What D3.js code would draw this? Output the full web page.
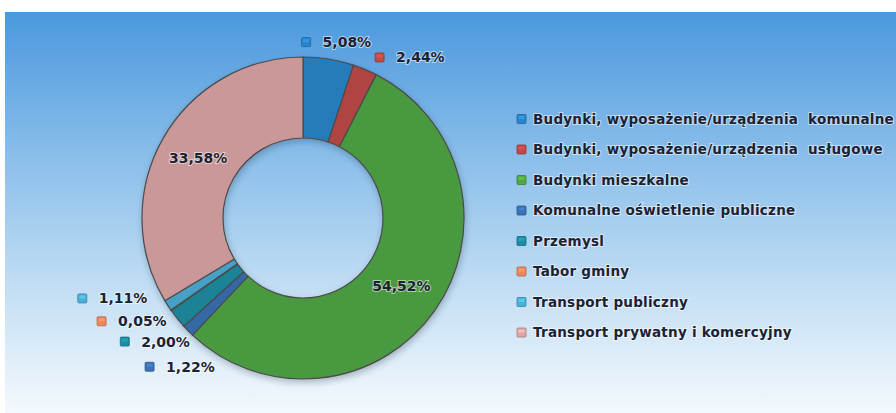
<!DOCTYPE html>
<meta charset="utf-8">
<title>Struktura zużycia energii</title>
<style>
  body { margin: 0; background: #fff; }
  svg text { font-family: "DejaVu Sans", sans-serif; font-weight: bold; fill: #1b2233; white-space: pre; }
  .halo { stroke: rgba(255,255,255,0.55); stroke-width: 2px; paint-order: stroke; }
</style>
<svg width="896" height="413"></svg>
<script src="https://d3js.org/d3.v7.min.js"></script>
<script>

// data, in drawing order (clockwise from 12 o'clock)
var categories = [
  "Budynki, wyposażenie/urządzenia  komunalne",
  "Budynki, wyposażenie/urządzenia  usługowe",
  "Budynki mieszkalne",
  "Komunalne oświetlenie publiczne",
  "Przemysl",
  "Tabor gminy",
  "Transport publiczny",
  "Transport prywatny i komercyjny"
];
var shares = [5.08, 2.44, 54.52, 1.22, 2.00, 0.05, 1.11, 33.58];
var colors = ["#2a86cc", "#bf4a48", "#4fa745", "#3b72b6", "#1c8ea3", "#ec875e", "#4cb0d8", "#dea6a8"];

// label placement: inside the ring or outside with an offset from the outer edge
var labelInside = [false, false, true, false, false, false, false, true];
var labelShift = [[-27, -17], [10, -12], [0, 0], [-43, 36], [-57, 23], [-74, 11], [-90, -7], [0, 0]];

var svg = d3.select("svg"),
    width = +svg.attr("width"),
    height = +svg.attr("height");

var fmt = function(v) { return d3.format(".2f")(v).replace(".", ",") + "%"; };

var defs = svg.append("defs");

// background panel
var bg = defs.append("linearGradient").attr("id", "bg")
    .attr("x1", 0).attr("y1", 0).attr("x2", 0).attr("y2", 1);
bg.append("stop").attr("offset", 0).attr("stop-color", "#4b98dd");
bg.append("stop").attr("offset", 0.35).attr("stop-color", "#88bdea");
bg.append("stop").attr("offset", 0.7).attr("stop-color", "#c4dff4");
bg.append("stop").attr("offset", 1).attr("stop-color", "#f4f9fd");

svg.append("rect")
    .attr("x", 5).attr("y", 12)
    .attr("width", width - 5).attr("height", height - 12)
    .attr("fill", "url(#bg)");

var cx = 303, cy = 218, outerR = 161, innerR = 80;

var shadow = defs.append("filter").attr("id", "shadow")
    .attr("x", "-10%").attr("y", "-10%").attr("width", "120%").attr("height", "120%");
shadow.append("feDropShadow")
    .attr("dx", 1).attr("dy", 3).attr("stdDeviation", 3)
    .attr("flood-color", "#203040").attr("flood-opacity", 0.3);

// ring shading per slice colour
colors.forEach(function(c, i) {
  var g = defs.append("radialGradient").attr("id", "sl" + i)
      .attr("gradientUnits", "userSpaceOnUse")
      .attr("cx", cx).attr("cy", cy).attr("r", outerR);
  var base = d3.color(c);
  g.append("stop").attr("offset", innerR / outerR).attr("stop-color", base.darker(0.15));
  g.append("stop").attr("offset", 0.6).attr("stop-color", base);
  g.append("stop").attr("offset", 0.86).attr("stop-color", base.brighter(0.1));
  g.append("stop").attr("offset", 1).attr("stop-color", base.darker(0.25));
});

var pie = d3.pie().sort(null).value(function(d) { return d; });
var arcs = pie(shares);

var arc = d3.arc().innerRadius(innerR).outerRadius(outerR);
var midArc = d3.arc().innerRadius((innerR + outerR) / 2).outerRadius((innerR + outerR) / 2);
var edgeArc = d3.arc().innerRadius(outerR).outerRadius(outerR);

var chart = svg.append("g").attr("transform", "translate(" + cx + "," + cy + ")");

chart.append("g")
    .attr("filter", "url(#shadow)")
  .selectAll("path")
  .data(arcs)
  .enter().append("path")
    .attr("d", arc)
    .attr("fill", function(d, i) { return "url(#sl" + i + ")"; })
    .attr("stroke", "#4b4b4b")
    .attr("stroke-width", 1.2)
    .attr("stroke-linejoin", "round");

// small square key marker
function marker(sel, i, x, y) {
  var c = d3.color(colors[i]);
  sel.append("rect")
      .attr("x", x).attr("y", y - 4.5)
      .attr("width", 9).attr("height", 9)
      .attr("rx", 1)
      .attr("fill", c)
      .attr("stroke", c.darker(0.8))
      .attr("stroke-width", 0.8);
  sel.append("rect")
      .attr("x", x + 1.5).attr("y", y - 3)
      .attr("width", 6).attr("height", 3)
      .attr("fill", c.brighter(0.6))
      .attr("opacity", 0.6);
}

// value labels
var labels = chart.append("g");
arcs.forEach(function(d, i) {
  if (labelInside[i]) {
    var p = midArc.centroid(d);
    labels.append("text")
        .attr("class", "halo")
        .attr("x", p[0]).attr("y", p[1] + 4)
        .attr("text-anchor", "middle")
        .attr("font-size", 14)
        .text(fmt(shares[i]));
  } else {
    var e = edgeArc.centroid(d);
    var x = e[0] + labelShift[i][0], y = e[1] + labelShift[i][1];
    var g = labels.append("g");
    marker(g, i, x, y);
    g.append("text")
        .attr("class", "halo")
        .attr("x", x + 21).attr("y", y + 5)
        .attr("font-size", 14)
        .text(fmt(shares[i]));
  }
});

// legend
var legend = svg.append("g").attr("transform", "translate(517,119)");
var row = d3.scalePoint().domain(d3.range(categories.length)).range([0, 213.5]);

categories.forEach(function(name, i) {
  var g = legend.append("g").attr("transform", "translate(0," + row(i) + ")");
  marker(g, i, 0, 0);
  g.append("text")
      .attr("class", "halo")
      .attr("x", 16).attr("y", 4.5)
      .attr("font-size", 13.5)
      .attr("letter-spacing", 0.25)
      .text(name);
});

</script>
